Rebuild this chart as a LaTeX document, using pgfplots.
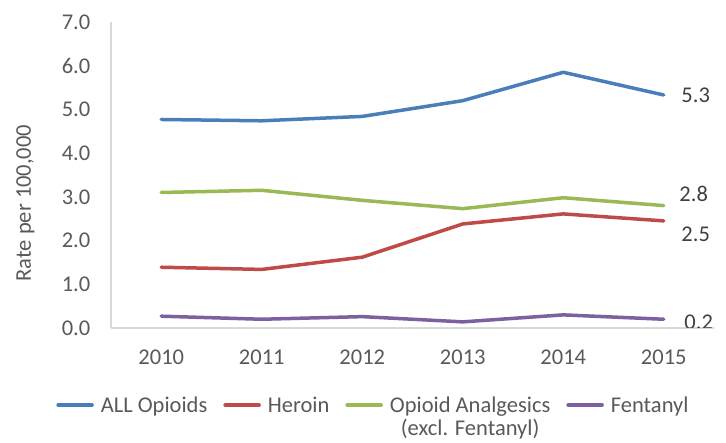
\documentclass[border=0pt]{standalone}
\usepackage{pgfplots}
\pgfplotsset{compat=1.18}
\usepackage{fontspec}
\setmainfont{Carlito}
\definecolor{cblue}{HTML}{4A7EBB}
\definecolor{cred}{HTML}{BE4B48}
\definecolor{cgreen}{HTML}{98B954}
\definecolor{cpurple}{HTML}{7D60A0}
\definecolor{axgray}{HTML}{D9D9D9}
\definecolor{tickgray}{HTML}{595959}
\definecolor{labgray}{HTML}{404040}
\begin{document}
\fontsize{22.5}{26}\selectfont
\begin{tikzpicture}
\begin{axis}[
  scale only axis, width=603pt, height=306pt,
  xmin=2009.5, xmax=2015.5, ymin=0, ymax=7,
  xtick={2010,2011,2012,2013,2014,2015},
  ytick={0,1,2,3,4,5,6,7},
  axis x line=bottom, axis y line=left,
  axis line style={draw=axgray, line width=1.2pt, -},
  major tick length=0pt,
  /pgf/number format/assume math mode=true,
  xticklabel style={/pgf/number format/1000 sep={}, text=tickgray, yshift=-14pt},
  yticklabel style={/pgf/number format/.cd, fixed, fixed zerofill, precision=1, /tikz/.cd, text=tickgray, xshift=-13pt},
  ylabel={Rate per 100,000},
  ylabel style={at={(axis description cs:-0.142,0.408)}, anchor=center, text=tickgray},
  every axis plot/.append style={line width=3.5pt, line join=round, line cap=round},
  legend columns=4,
  legend image code/.code={\draw[#1, line width=3.5pt] (0pt,7pt) -- (34pt,7pt);},
  legend style={at={(axis description cs:-0.091,-0.215)}, anchor=north west, draw=none, fill=none,
    inner sep=0pt, text=tickgray, nodes={inner sep=0pt, anchor=base west},
    /tikz/every even column/.append style={column sep=16pt},
    /tikz/every odd column/.append style={column sep=7pt}},
]
\addplot[cblue] coordinates {(2010,4.77) (2011,4.74) (2012,4.84) (2013,5.20) (2014,5.85) (2015,5.33)};
\addlegendentry{ALL Opioids}
\addplot[cred] coordinates {(2010,1.39) (2011,1.34) (2012,1.62) (2013,2.38) (2014,2.61) (2015,2.45)};
\addlegendentry{Heroin}
\addplot[cgreen] coordinates {(2010,3.10) (2011,3.15) (2012,2.92) (2013,2.73) (2014,2.98) (2015,2.80)};
\addlegendentry{\begin{tabular}[t]{@{}c@{}}Opioid Analgesics\\[-3pt](excl. Fentanyl)\end{tabular}}
\addplot[cpurple] coordinates {(2010,0.27) (2011,0.20) (2012,0.26) (2013,0.14) (2014,0.30) (2015,0.20)};
\addlegendentry{Fentanyl}
\node[anchor=west, text=labgray, xshift=10pt] at (axis cs:2015,5.33) {5.3};
\node[anchor=west, text=labgray, xshift=8pt, yshift=12pt] at (axis cs:2015,2.80) {2.8};
\node[anchor=west, text=labgray, xshift=10pt, yshift=-13pt] at (axis cs:2015,2.45) {2.5};
\node[anchor=west, text=labgray, xshift=13pt, yshift=-3pt] at (axis cs:2015,0.20) {0.2};
\end{axis}
\pgfresetboundingbox
\path[use as bounding box] (-111pt,-115pt) rectangle (615pt,328pt);
\end{tikzpicture}
\end{document}
